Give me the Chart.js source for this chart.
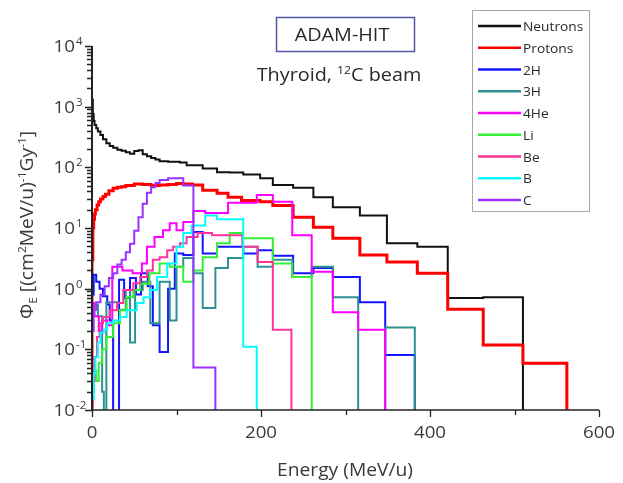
<!DOCTYPE html>
<html>
<head>
<meta charset="utf-8">
<script src="https://cdn.jsdelivr.net/npm/chart.js@4.4.1/dist/chart.umd.min.js"></script>
<style>
    html, body { margin: 0; padding: 0; background: #fff; }
    #wrap { width: 623px; height: 483px; }
</style>
</head>
<body>
<div id="wrap"><canvas id="chart" width="623" height="483"></canvas></div>
<script>
// Spectre de fluence - ADAM-HIT, thyroïde, faisceau 12C

// Séries : bords des bins (MeV/u) et valeurs (cm2 MeV/u)^-1 Gy^-1, 0 = bin vide
const neutronEdges = [0, 1, 2, 3, 5, 7, 10, 13, 17, 21, 25, 30, 35, 40, 45, 50, 55, 60, 65, 70, 75, 80, 90, 104, 112, 131, 148, 163, 179, 199, 214, 238, 262, 285, 317, 349, 385, 421, 463, 510];
const neutronValues = [1300, 750, 580, 500, 440, 390, 340, 290, 250, 225, 210, 195, 188, 178, 168, 185, 192, 165, 152, 142, 135, 126, 124, 120, 108, 96, 83, 82, 76, 66, 51, 46, 32, 22, 16, 5.6, 4.9, 0.7, 0.72];

const protonEdges = [0, 1, 2, 3, 4, 6, 8, 10, 13, 16, 20, 25, 30, 35, 40, 50, 60, 70, 80, 90, 100, 108, 119, 131, 148, 161, 177, 199, 214, 238, 262, 285, 317, 349, 385, 421, 463, 510, 562];
const protonValues = [3, 10, 14, 17, 20, 24, 27, 30, 33, 36, 41, 45, 47, 48, 50, 53, 52, 50, 51, 52, 54, 53, 51, 42, 37.5, 32, 28.5, 27, 23.6, 15, 10.3, 6.8, 3.6, 2.75, 1.8, 0.46, 0.118, 0.059];

const h2Edges = [0, 2, 5, 9, 13, 18, 21, 25, 32, 38, 45, 52, 58, 66, 72, 80, 90, 98, 108, 120, 131, 148, 179, 196, 214, 238, 262, 285, 317, 347, 382];
const h2Values = [0.8, 1.7, 1.3, 1.0, 0.75, 0.55, 0.3, 0, 1.4, 0.7, 1.5, 0.8, 1.8, 1.1, 0.25, 0.09, 1.0, 3.8, 3.6, 8.6, 3.8, 4.9, 3.8, 4.3, 3.5, 1.8, 2.2, 1.55, 0.6, 0.081];

const h3Edges = [0, 1, 7, 12, 14, 17, 30, 40, 45, 51, 60, 69, 80, 92, 100, 108, 120, 131, 146, 161, 179, 196, 214, 237, 260, 285, 315, 347, 382];
const h3Values = [0.3, 0.55, 0.35, 0.02, 0, 0.6, 0.45, 0.95, 0.13, 0.95, 1.3, 0.27, 1.3, 0.3, 2.3, 3.2, 1.8, 0.48, 2.2, 3.2, 4.9, 2.3, 3.0, 1.55, 2.3, 0.72, 0, 0.23];

const he4Edges = [0, 3, 8, 12, 18, 24, 36, 48, 59, 65, 74, 84, 92, 100, 108, 120, 134, 161, 195, 214, 237, 260, 285, 315, 347];
const he4Values = [0.58, 0.35, 0.2, 0.3, 0.25, 2.3, 2.0, 1.8, 2.6, 4.9, 7.1, 9.2, 12, 9.2, 12.5, 19, 17.6, 26, 35, 27, 7.6, 1.9, 0.41, 0.21];

const liEdges = [0, 2, 5, 8, 12, 17, 25, 33, 41, 49, 57, 68, 80, 92, 108, 120, 131, 148, 163, 178, 214, 237, 260];
const liValues = [0.02, 0.045, 0.03, 0.06, 0.1, 0.16, 0.27, 0.44, 0.72, 0.95, 1.2, 1.8, 2.6, 2.3, 1.3, 2.0, 3.3, 5.6, 8.3, 6.8, 2.6, 1.55];

const beEdges = [0, 1, 3, 6, 9, 13, 21, 30, 37, 49, 57, 65, 72, 80, 89, 96, 104, 112, 125, 142, 178, 196, 214, 236];
const beValues = [0.012, 0.03, 0.075, 0.16, 0.27, 0.34, 0.44, 0.58, 0.95, 1.23, 1.55, 2.0, 3.0, 3.3, 4.3, 4.9, 5.6, 7.1, 8.3, 7.6, 4.9, 2.75, 0.21];

const bEdges = [0, 2, 4, 7, 10, 14, 18, 25, 33, 41, 53, 61, 69, 77, 89, 100, 108, 118, 134, 148, 179, 195];
const bValues = [0.015, 0.04, 0.075, 0.13, 0.19, 0.21, 0.27, 0.3, 0.34, 0.44, 0.58, 0.72, 0.95, 1.55, 2.6, 4.9, 8.3, 11, 16, 14, 0.11];

const cEdges = [0, 2, 5, 10, 15, 20, 25, 30, 35, 40, 45, 50, 55, 60, 65, 70, 75, 80, 90, 108, 120, 146];
const cValues = [0.2, 0.45, 0.6, 0.8, 1.1, 1.5, 1.8, 2.5, 3.0, 4.0, 5.5, 9, 15, 25, 38, 47, 55, 62, 66, 50, 0.05];

const seriesLabels = ['Neutrons', 'Protons', '2H', '3H', '4He', 'Li', 'Be', 'B', 'C'];
const seriesEdges = [neutronEdges, protonEdges, h2Edges, h3Edges, he4Edges, liEdges, beEdges, bEdges, cEdges];
const seriesValues = [neutronValues, protonValues, h2Values, h3Values, he4Values, liValues, beValues, bValues, cValues];

// Axes
const xMin = 0, xMax = 600;
const xMajorTicks = [0, 200, 400, 600];
const xMinorTicks = [100, 300, 500];
const xTickLabels = ['0', '200', '400', '600'];
const yMin = 0.01, yMax = 10000;
const yExponents = [-2, -1, 0, 1, 2, 3, 4];
const yTickExponentLabels = ['-2', '-1', '0', '1', '2', '3', '4'];

// Styles
const seriesColors = ['#111111', '#FF0000', '#1414FF', '#2E9191', '#FF00FF', '#33F033', '#FF3399', '#00FFFF', '#9933FF'];
const seriesWidths = [2, 3, 2, 2, 2, 2, 2, 2, 2];
const FONT = '"Open Sans", sans-serif';
const STRETCH = 1.1;
const FLOOR = 1e-4; // sous l'axe : les bins vides tombent jusqu'à l'axe

/**
 * Convertit bins -> points pour une ligne en escalier
 */
function stepPoints(edges, values) {
    const pts = [{ x: edges[0], y: FLOOR }];
    values.forEach((v, i) => pts.push({ x: edges[i], y: v > 0 ? v : FLOOR }));
    pts.push({ x: edges[edges.length - 1], y: FLOOR });
    return pts;
}

/**
 * Texte avec exposants / indices : parts = [[texte, mode]] mode 1 = sup, -1 = sub
 */
function drawRich(ctx, parts, x, y, size, align) {
    const sizeOf = m => (m ? size * 0.62 : size);
    let width = 0;
    parts.forEach(([t, m]) => {
        ctx.font = sizeOf(m) + 'px ' + FONT;
        width += ctx.measureText(t).width * STRETCH;
    });
    let cx = align === 'center' ? x - width / 2 : align === 'right' ? x - width : x;
    ctx.textAlign = 'left';
    ctx.textBaseline = 'alphabetic';
    parts.forEach(([t, m]) => {
        ctx.font = sizeOf(m) + 'px ' + FONT;
        const dy = m === 1 ? -size * 0.4 : m === -1 ? size * 0.22 : 0;
        ctx.save();
        ctx.translate(cx, y + dy);
        ctx.scale(STRETCH, 1);
        ctx.fillText(t, 0, 0);
        ctx.restore();
        cx += ctx.measureText(t).width * STRETCH;
    });
    return width;
}

const decorPlugin = {
    id: 'decor',
    afterDraw(chart) {
        const ctx = chart.ctx;
        const xs = chart.scales.x;
        const ys = chart.scales.y;
        const area = chart.chartArea;
        ctx.save();

        // Axes
        ctx.strokeStyle = '#222';
        ctx.lineWidth = 2;
        ctx.beginPath();
        ctx.moveTo(area.left, area.top);
        ctx.lineTo(area.left, area.bottom);
        ctx.stroke();
        ctx.lineWidth = 1.6;
        ctx.beginPath();
        ctx.moveTo(area.left, area.bottom);
        ctx.lineTo(area.right, area.bottom);
        ctx.stroke();

        // Graduations Y (log)
        ctx.lineWidth = 1.3;
        ctx.beginPath();
        yExponents.forEach(e => {
            const py = Math.round(ys.getPixelForValue(Math.pow(10, e))) + 0.5;
            ctx.moveTo(area.left - 7, py);
            ctx.lineTo(area.left, py);
            if (e < 4) {
                for (let m = 2; m <= 9; m++) {
                    const my = Math.round(ys.getPixelForValue(m * Math.pow(10, e))) + 0.5;
                    ctx.moveTo(area.left - 5, my);
                    ctx.lineTo(area.left, my);
                }
            }
        });
        ctx.stroke();

        // Graduations X
        ctx.beginPath();
        xMajorTicks.forEach(v => {
            const px = Math.round(xs.getPixelForValue(v)) + 0.5;
            ctx.moveTo(px, area.bottom);
            ctx.lineTo(px, area.bottom + 7);
        });
        xMinorTicks.forEach(v => {
            const px = Math.round(xs.getPixelForValue(v)) + 0.5;
            ctx.moveTo(px, area.bottom);
            ctx.lineTo(px, area.bottom + 5);
        });
        ctx.stroke();

        // Étiquettes des graduations
        ctx.fillStyle = '#3a3a3a';
        xMajorTicks.forEach((v, i) => {
            drawRich(ctx, [[xTickLabels[i], 0]], xs.getPixelForValue(v), area.bottom + 28, 17, 'center');
        });
        yExponents.forEach((e, i) => {
            const py = ys.getPixelForValue(Math.pow(10, e));
            drawRich(ctx, [['10', 0]], 75, py + 6, 17, 'right');
            drawRich(ctx, [[yTickExponentLabels[i], 0]], 76, py - 1, 10.5, 'left');
        });

        // Titres des axes
        drawRich(ctx, [['Energy (MeV/u)', 0]], 345, 476, 17.5, 'center');
        ctx.save();
        ctx.translate(33, 225);
        ctx.rotate(-Math.PI / 2);
        drawRich(ctx, [['\u03A6', 0], ['E', -1], [' [(cm', 0], ['2', 1], ['MeV/u)', 0], ['-1', 1], ['Gy', 0], ['-1', 1], [']', 0]], 0, 0, 17.5, 'center');
        ctx.restore();

        // Cartouche du titre
        ctx.strokeStyle = '#5353A8';
        ctx.lineWidth = 1.5;
        ctx.strokeRect(276.5, 17.5, 138, 34);
        ctx.fillStyle = '#2a2a2a';
        drawRich(ctx, [['ADAM-HIT', 0]], 342, 41, 18, 'center');
        drawRich(ctx, [['Thyroid, ', 0], ['12', 1], ['C beam', 0]], 339, 81, 18, 'center');

        // Légende
        ctx.strokeStyle = '#a8a8a8';
        ctx.lineWidth = 1;
        ctx.strokeRect(472.5, 10.5, 117, 201);
        chart.data.datasets.forEach((ds, i) => {
            const ly = 26 + i * 21.75;
            ctx.strokeStyle = ds.borderColor;
            ctx.lineWidth = 2.5;
            ctx.beginPath();
            ctx.moveTo(478, ly);
            ctx.lineTo(521, ly);
            ctx.stroke();
            ctx.fillStyle = '#2a2a2a';
            drawRich(ctx, [[ds.label, 0]], 523, ly + 5, 12.5, 'left');
        });

        ctx.restore();
    }
};

const datasets = seriesLabels.map((label, i) => ({
    label: label,
    data: stepPoints(seriesEdges[i], seriesValues[i]),
    borderColor: seriesColors[i],
    backgroundColor: seriesColors[i],
    borderWidth: seriesWidths[i],
    stepped: 'before',
    pointRadius: 0,
    fill: false,
    order: -i
}));

new Chart(document.getElementById('chart').getContext('2d'), {
    type: 'line',
    data: { datasets: datasets },
    options: {
        responsive: false,
        animation: false,
        layout: { padding: { left: 92, right: 24, top: 46, bottom: 73 } },
        plugins: { legend: { display: false }, tooltip: { enabled: false } },
        scales: {
            x: { type: 'linear', min: xMin, max: xMax, display: false },
            y: { type: 'logarithmic', min: yMin, max: yMax, display: false }
        }
    },
    plugins: [decorPlugin]
});
</script>
</body>
</html>
